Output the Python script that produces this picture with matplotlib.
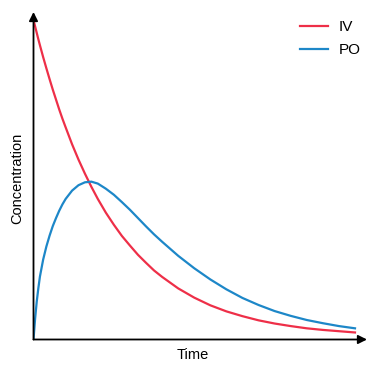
import matplotlib
matplotlib.use('Agg')
import matplotlib.pyplot as plt

plt.rcParams['font.family'] = ['Liberation Sans', 'DejaVu Sans']

# time points and concentrations
time = [0, 0.05, 0.1, 0.15, 0.2, 0.3, 0.4, 0.5, 0.6, 0.7, 0.8, 0.9, 1.0,
        1.2, 1.4, 1.6, 1.8, 2.0, 2.25, 2.5, 2.75, 3.0, 3.25, 3.5, 3.75, 4.0,
        4.5, 5.0, 5.5, 6.0, 6.5, 7.0, 7.5, 8.0, 8.5, 9.0, 9.5, 10.0]
iv = [1.0, 0.980, 0.960, 0.940, 0.921, 0.884, 0.849, 0.815, 0.782, 0.751,
      0.720, 0.691, 0.664, 0.611, 0.563, 0.519, 0.478, 0.440, 0.397, 0.359,
      0.324, 0.294, 0.265, 0.240, 0.216, 0.196, 0.160, 0.131, 0.107, 0.088,
      0.073, 0.060, 0.050, 0.042, 0.035, 0.030, 0.026, 0.022]
po = [0.0, 0.065, 0.118, 0.160, 0.197, 0.250, 0.291, 0.325, 0.355, 0.380,
      0.403, 0.423, 0.440, 0.466, 0.483, 0.492, 0.494, 0.488, 0.472, 0.453,
      0.430, 0.406, 0.380, 0.354, 0.329, 0.306, 0.262, 0.223, 0.188, 0.157,
      0.130, 0.108, 0.089, 0.074, 0.061, 0.051, 0.042, 0.035]
names = ['IV', 'PO']
colors = ['#ee2f48', '#1d87c8']

fig = plt.figure(figsize=(3.77, 3.73), dpi=100)
ax = fig.add_axes([33.5 / 377, 33.5 / 373, (367 - 33.5) / 377, (339.5 - 12) / 373])

ax.plot(time, iv, color=colors[0], lw=1.6, label=names[0])
ax.plot(time, po, color=colors[1], lw=1.6, label=names[1])

ax.set_xlim(0, 10 * (367 - 33.5) / (355 - 33.5))
ax.set_ylim(0, (339.5 - 12) / (339.5 - 20))

for s in ax.spines.values():
    s.set_visible(False)
ax.set_xticks([])
ax.set_yticks([])

# axis arrows
ax.annotate('', xy=(1, 0), xytext=(0, 0), xycoords='axes fraction',
            arrowprops=dict(arrowstyle='-|>', color='black', lw=1.3,
                            mutation_scale=13, shrinkA=0, shrinkB=0))
ax.annotate('', xy=(0, 1), xytext=(0, 0), xycoords='axes fraction',
            arrowprops=dict(arrowstyle='-|>', color='black', lw=1.3,
                            mutation_scale=13, shrinkA=0, shrinkB=0))

fig.text(193 / 377, 1 - 355 / 373, 'Time', ha='center', va='center', fontsize=10.5)
fig.text(17 / 377, 1 - 178 / 373, 'Concentration', ha='center', va='center',
         rotation=90, fontsize=10.5)

ax.legend(loc='upper left', bbox_to_anchor=(300 / 377, 1 - 20 / 373),
          bbox_transform=fig.transFigure, frameon=False, borderpad=0,
          borderaxespad=0, fontsize=11, handlelength=1.8,
          handletextpad=0.75, labelspacing=0.6)

fig.savefig('out.png', dpi=100)
